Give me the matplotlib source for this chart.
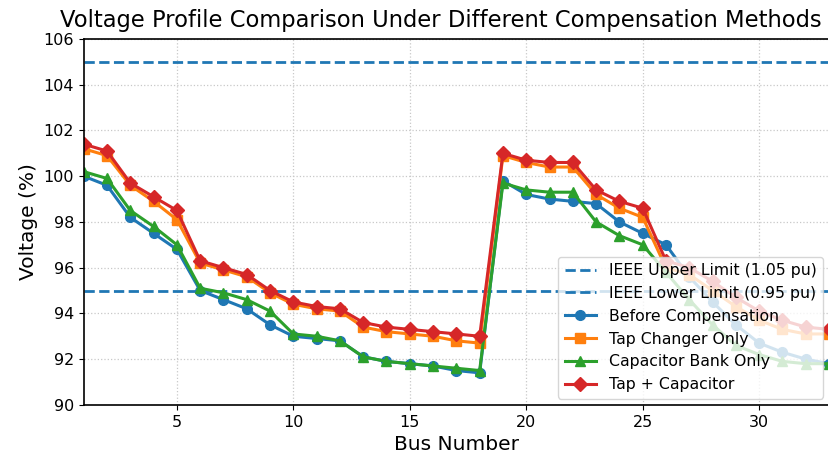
import numpy as np
import matplotlib
matplotlib.use("Agg")
import matplotlib.pyplot as plt

# bus voltages in percent
bus = np.arange(1, 34)
before = [100.0, 99.6, 98.2, 97.5, 96.8, 95.0, 94.6, 94.2, 93.5, 93.0, 92.9,
          92.8, 92.1, 91.9, 91.8, 91.7, 91.5, 91.4, 99.8, 99.2, 99.0, 98.9,
          98.8, 98.0, 97.5, 97.0, 95.6, 94.5, 93.5, 92.7, 92.3, 92.0, 91.8]
tap_only = [101.2, 100.9, 99.6, 98.9, 98.1, 96.2, 95.9, 95.6, 94.9, 94.4, 94.2,
            94.1, 93.4, 93.2, 93.1, 93.0, 92.8, 92.7, 100.9, 100.6, 100.4, 100.4,
            99.2, 98.6, 98.2, 96.0, 95.7, 95.0, 94.3, 93.7, 93.3, 93.1, 93.1]
cap_only = [100.2, 99.9, 98.5, 97.8, 97.0, 95.1, 94.9, 94.6, 94.1, 93.1, 93.0,
            92.8, 92.1, 91.9, 91.8, 91.7, 91.6, 91.5, 99.7, 99.4, 99.3, 99.3,
            98.0, 97.4, 97.0, 95.8, 94.6, 93.5, 92.6, 92.2, 91.9, 91.8, 91.8]
tap_cap = [101.4, 101.1, 99.7, 99.1, 98.5, 96.3, 96.0, 95.7, 95.0, 94.5, 94.3,
           94.2, 93.6, 93.4, 93.3, 93.2, 93.1, 93.0, 101.0, 100.7, 100.6, 100.6,
           99.4, 98.9, 98.6, 96.3, 96.0, 95.4, 94.7, 94.1, 93.7, 93.4, 93.3]

upper_limit = 105
lower_limit = 95

fig = plt.figure(figsize=(8.29, 4.59), dpi=100)
ax = fig.add_axes([0.101, 0.118, 0.899, 0.797])

ax.axhline(upper_limit, color='#1f77b4', linestyle='--', linewidth=2,
           label='IEEE Upper Limit (1.05 pu)')
ax.axhline(lower_limit, color='#1f77b4', linestyle='--', linewidth=2,
           label='IEEE Lower Limit (0.95 pu)')

ax.plot(bus, before, marker='o', color='#1f77b4', linewidth=2.2, markersize=7,
        label='Before Compensation')
ax.plot(bus, tap_only, marker='s', color='#ff7f0e', linewidth=2.2, markersize=7,
        label='Tap Changer Only')
ax.plot(bus, cap_only, marker='^', color='#2ca02c', linewidth=2.2, markersize=7.5,
        label='Capacitor Bank Only')
ax.plot(bus, tap_cap, marker='D', color='#d62728', linewidth=2.2, markersize=7,
        label='Tap + Capacitor')

ax.set_xlim(1, 33)
ax.set_ylim(90, 106)
ax.set_xticks([5, 10, 15, 20, 25, 30])
ax.set_yticks(np.arange(90, 107, 2))
ax.tick_params(labelsize=11.5)
for s in ax.spines.values():
    s.set_linewidth(1.2)

ax.grid(True, linestyle=':', color='#c8c8c8', linewidth=0.9)
ax.set_xlabel("Bus Number", fontsize=14.5)
ax.set_ylabel("Voltage (%)", fontsize=14.5)
ax.set_title("Voltage Profile Comparison Under Different Compensation Methods",
             fontsize=16.3, x=0.479, pad=9)
ax.legend(loc='lower right', fontsize=11.3, borderaxespad=0.4)

fig.savefig("out.png", dpi=100)
